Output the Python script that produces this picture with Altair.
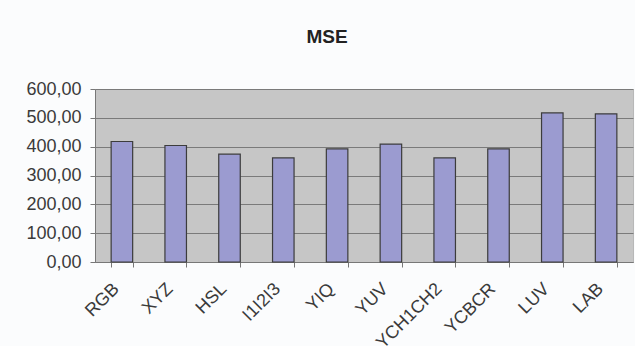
import altair as alt
import pandas as pd

# Mean squared error per colour space
spaces = ["RGB", "XYZ", "HSL", "I1I2I3", "YIQ", "YUV", "YCH1CH2", "YCBCR", "LUV", "LAB"]
mse = [418, 404, 374, 361, 392, 409, 361, 392, 517, 514]

df = pd.DataFrame({"space": spaces, "mse": mse})

label_color = "#3a3a3a"
font = "Liberation Sans"

bars = alt.Chart(df).mark_bar(
    color="#9b9bd0", stroke="#3c3c3c", strokeWidth=1.2
).encode(
    x=alt.X(
        "space:N",
        sort=spaces,
        scale=alt.Scale(paddingInner=0.6, paddingOuter=0.3),
        axis=alt.Axis(
            title=None,
            labelAngle=-45,
            labelAlign="right",
            labelBaseline="middle",
            labelFontSize=18,
            labelColor=label_color,
            labelFont=font,
            labelPadding=19,
            labelOffset=-6,
            tickBand="extent",
            tickSize=5,
            tickColor="#777777",
            domainColor="#777777",
            grid=False,
        ),
    ),
    y=alt.Y(
        "mse:Q",
        scale=alt.Scale(domain=[0, 600], nice=False),
        axis=alt.Axis(
            title=None,
            values=[0, 100, 200, 300, 400, 500, 600],
            labelExpr="replace(format(datum.value, '.2f'), '.', ',')",
            labelFontSize=18,
            labelColor=label_color,
            labelFont=font,
            labelPadding=9,
            tickSize=5,
            tickColor="#777777",
            domainColor="#777777",
            grid=True,
            gridColor="#7a7a7a",
            gridWidth=1,
        ),
    ),
)

chart = bars.properties(
    width=538,
    height=173,
    autosize=alt.AutoSizeParams(type="none"),
    padding={"left": 95, "top": 89, "right": 2, "bottom": 84},
    background="#fbfcfd",
    title=alt.Title(
        "MSE",
        fontSize=19,
        fontWeight="bold",
        font=font,
        color="#222222",
        offset=33,
        dx=-37,
    ),
).configure_view(
    fill="#c6c6c6",
    stroke="#b8b8b8",
)

chart.save("out.html", embed_options={"renderer": "svg", "actions": False})
